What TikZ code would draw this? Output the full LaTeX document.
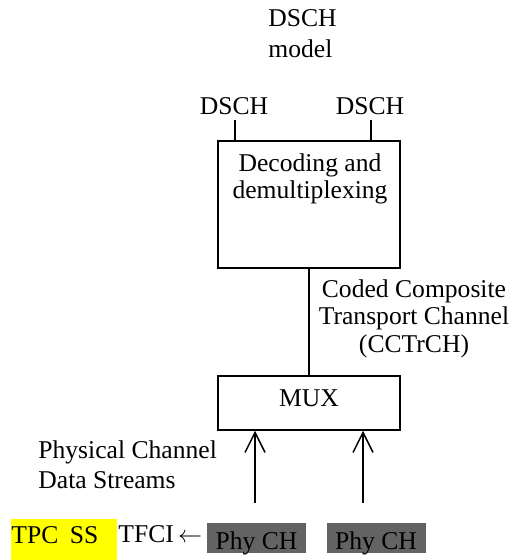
\documentclass[tikz,border=0pt]{standalone}
\usepackage{fontspec}
\setmainfont{Liberation Serif}
\usetikzlibrary{arrows.meta}
\definecolor{phygray}{RGB}{99,99,99}
\definecolor{hlyellow}{RGB}{255,255,0}
\begin{document}
\begin{tikzpicture}[x=0.5pt,y=-0.5pt,
  every node/.style={font=\fontsize{12.8}{13.5}\selectfont, inner sep=0pt},
  ln/.style={line width=0.75pt},
  blk/.style={draw, ln, minimum width=91pt},
  phybox/.style={fill=phygray, minimum width=49.5pt, text height=13pt, text depth=2pt, align=center},
  uparrow/.style={ln, -{Straight Barb[length=10pt,width=10pt]}}]
\useasboundingbox (0,0) rectangle (517,560);
% title
\node[anchor=base west, align=left, font=\fontsize{12.8}{15.5}\selectfont] (title) at (268,58) {DSCH\\model};
% decoding box
\node[blk, minimum height=63.5pt] (dec) at (309,204.5) {};
\node[anchor=base, align=center] (dectext) at (310,199) {Decoding and\\demultiplexing};
% DSCH labels
\node[anchor=base] (dsch1) at (234,115) {DSCH};
\node[anchor=base] (dsch2) at (370,115) {DSCH};
\coordinate (t1) at (235,120);
\coordinate (t2) at (371,120);
\draw[ln] (t1) -- (t1 |- dec.north);
\draw[ln] (t2) -- (t2 |- dec.north);
% MUX
\node[blk, minimum height=27pt, text height=15pt, text depth=12pt] (mux) at (309,403) {MUX};
\draw[ln] (dec.south) -- (mux.north);
\node[anchor=base, align=center, font=\fontsize{12.8}{13.75}\selectfont] (cctrch) at (414,352) {Coded Composite\\Transport Channel\\(CCTrCH)};
% physical channel label
\node[anchor=base west, align=left, font=\fontsize{12.8}{15}\selectfont] (pcds) at (38,488) {Physical Channel\\Data Streams};
% arrows
\coordinate (a1) at (255,503);
\coordinate (a2) at (363,503);
\draw[uparrow] (a1) -- (a1 |- mux.south);
\draw[uparrow] (a2) -- (a2 |- mux.south);
% bottom row
\node[fill=hlyellow, anchor=north west, minimum width=53pt, text width=53pt, align=left, text height=12pt, text depth=8.5pt] (tpc) at (11,519) {TPC\hspace{0.45em}SS};
\node[anchor=base west] (tfci) at (118,542) {TFCI\,$\leftarrow$};
\node[phybox] (phy1) at (256.5,538) {Phy CH};
\node[phybox] (phy2) at (376,538) {Phy CH};
\end{tikzpicture}
\end{document}
